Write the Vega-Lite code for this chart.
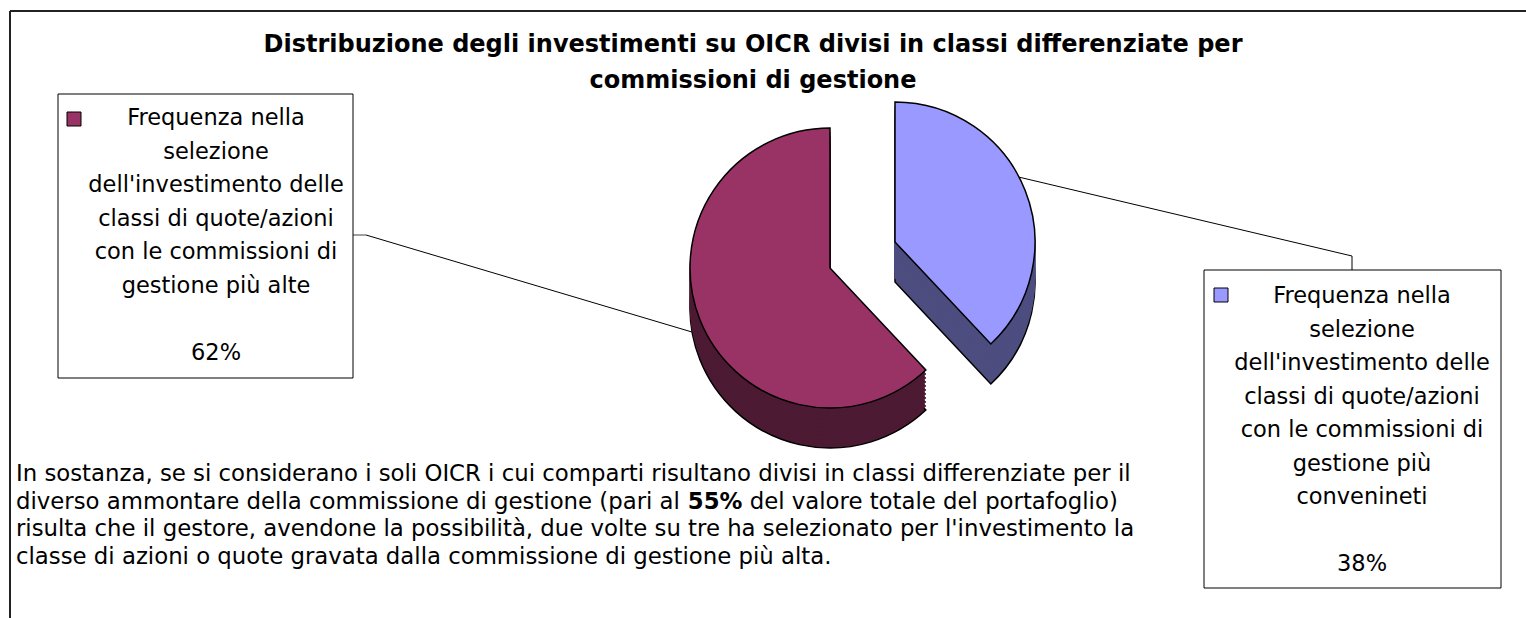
{
  "$schema": "https://vega.github.io/schema/vega-lite/v6.json",
  "width": 1526,
  "height": 618,
  "autosize": {"type": "none"},
  "padding": 0,
  "background": "#ffffff",
  "config": {"view": {"stroke": null}, "axis": {"disable": true}},
  "datasets": {
    "slices": [
      {"cat": "alte", "label": "Frequenza nella|selezione|dell'investimento delle|classi di quote/azioni|con le commissioni di|gestione più alte", "pct": 62, "ord": 2},
      {"cat": "convenienti", "label": "Frequenza nella|selezione|dell'investimento delle|classi di quote/azioni|con le commissioni di|gestione più|convenineti", "pct": 38, "ord": 1}
    ]
  },
  "layer": [
    {
      "data": {"values": [{}]},
      "layer": [
        {"mark": {"type": "rule", "color": "#222222", "strokeWidth": 2},
         "encoding": {"x": {"datum": 10, "axis": null, "scale": {"domain": [0, 1526], "nice": false, "zero": false}}, "y": {"datum": 11, "axis": null, "scale": {"domain": [0, 618], "nice": false, "zero": false, "reverse": true}}, "x2": {"datum": 1526}, "y2": {"datum": 11}}},
        {"mark": {"type": "rule", "color": "#222222", "strokeWidth": 2},
         "encoding": {"x": {"datum": 10, "scale": {"domain": [0, 1526], "nice": false, "zero": false}}, "y": {"datum": 11, "scale": {"domain": [0, 618], "nice": false, "zero": false, "reverse": true}}, "x2": {"datum": 10}, "y2": {"datum": 618}}},
        {"mark": {"type": "rule", "color": "#808080", "strokeWidth": 1.5},
         "encoding": {"x": {"datum": 353, "scale": {"domain": [0, 1526], "nice": false, "zero": false}}, "y": {"datum": 235, "scale": {"domain": [0, 618], "nice": false, "zero": false, "reverse": true}}, "x2": {"datum": 366}, "y2": {"datum": 235}}},
        {"mark": {"type": "rule", "color": "#000000", "strokeWidth": 1},
         "encoding": {"x": {"datum": 366, "scale": {"domain": [0, 1526], "nice": false, "zero": false}}, "y": {"datum": 235, "scale": {"domain": [0, 618], "nice": false, "zero": false, "reverse": true}}, "x2": {"datum": 702}, "y2": {"datum": 335}}},
        {"mark": {"type": "rule", "color": "#000000", "strokeWidth": 1},
         "encoding": {"x": {"datum": 1010, "scale": {"domain": [0, 1526], "nice": false, "zero": false}}, "y": {"datum": 175, "scale": {"domain": [0, 618], "nice": false, "zero": false, "reverse": true}}, "x2": {"datum": 1352}, "y2": {"datum": 256}}},
        {"mark": {"type": "rule", "color": "#000000", "strokeWidth": 1},
         "encoding": {"x": {"datum": 1352, "scale": {"domain": [0, 1526], "nice": false, "zero": false}}, "y": {"datum": 256, "scale": {"domain": [0, 618], "nice": false, "zero": false, "reverse": true}}, "x2": {"datum": 1352}, "y2": {"datum": 270}}}
      ]
    },
    {
      "data": {"name": "slices"},
      "transform": [
        {"stack": "pct", "groupby": [], "sort": [{"field": "ord", "order": "ascending"}], "as": ["start", "end"]},
        {"calculate": "datum.pct + '%'", "as": "pcttext"}
      ],
      "layer": [
        {
          "transform": [{"filter": "datum.cat === 'alte'"}],
          "encoding": {
            "x": {"datum": 830, "scale": {"domain": [0, 1526], "nice": false, "zero": false}},
            "theta": {"field": "start", "type": "quantitative", "scale": {"domain": [0, 100], "range": [0, 6.283185307179586]}},
            "theta2": {"field": "end"}
          },
          "layer": [
            {"mark": {"type": "arc", "radius": 140, "fill": "#4d1a33", "stroke": "#000000", "strokeWidth": 1.5}, "encoding": {"y": {"datum": 308, "scale": {"domain": [0, 618], "nice": false, "zero": false, "reverse": true}}}},
            {"mark": {"type": "arc", "radius": 140, "fill": "#4d1a33", "stroke": "#4d1a33", "strokeWidth": 1}, "encoding": {"y": {"datum": 304, "scale": {"domain": [0, 618], "nice": false, "zero": false, "reverse": true}}}},
            {"mark": {"type": "arc", "radius": 140, "fill": "#4d1a33", "stroke": "#4d1a33", "strokeWidth": 1}, "encoding": {"y": {"datum": 300, "scale": {"domain": [0, 618], "nice": false, "zero": false, "reverse": true}}}},
            {"mark": {"type": "arc", "radius": 140, "fill": "#4d1a33", "stroke": "#4d1a33", "strokeWidth": 1}, "encoding": {"y": {"datum": 296, "scale": {"domain": [0, 618], "nice": false, "zero": false, "reverse": true}}}},
            {"mark": {"type": "arc", "radius": 140, "fill": "#4d1a33", "stroke": "#4d1a33", "strokeWidth": 1}, "encoding": {"y": {"datum": 292, "scale": {"domain": [0, 618], "nice": false, "zero": false, "reverse": true}}}},
            {"mark": {"type": "arc", "radius": 140, "fill": "#4d1a33", "stroke": "#4d1a33", "strokeWidth": 1}, "encoding": {"y": {"datum": 288, "scale": {"domain": [0, 618], "nice": false, "zero": false, "reverse": true}}}},
            {"mark": {"type": "arc", "radius": 140, "fill": "#4d1a33", "stroke": "#4d1a33", "strokeWidth": 1}, "encoding": {"y": {"datum": 284, "scale": {"domain": [0, 618], "nice": false, "zero": false, "reverse": true}}}},
            {"mark": {"type": "arc", "radius": 140, "fill": "#4d1a33", "stroke": "#4d1a33", "strokeWidth": 1}, "encoding": {"y": {"datum": 280, "scale": {"domain": [0, 618], "nice": false, "zero": false, "reverse": true}}}},
            {"mark": {"type": "arc", "radius": 140, "fill": "#4d1a33", "stroke": "#4d1a33", "strokeWidth": 1}, "encoding": {"y": {"datum": 276, "scale": {"domain": [0, 618], "nice": false, "zero": false, "reverse": true}}}},
            {"mark": {"type": "arc", "radius": 140, "fill": "#4d1a33", "stroke": "#4d1a33", "strokeWidth": 1}, "encoding": {"y": {"datum": 272, "scale": {"domain": [0, 618], "nice": false, "zero": false, "reverse": true}}}},
            {"mark": {"type": "arc", "radius": 140, "stroke": "#000000", "strokeWidth": 1.5},
             "encoding": {"y": {"datum": 268, "scale": {"domain": [0, 618], "nice": false, "zero": false, "reverse": true}},
                          "color": {"field": "cat", "type": "nominal", "scale": {"domain": ["alte", "convenienti"], "range": ["#993366", "#9999ff"]}, "legend": null}}}
          ]
        },
        {
          "transform": [{"filter": "datum.cat === 'convenienti'"}],
          "encoding": {
            "x": {"datum": 895, "scale": {"domain": [0, 1526], "nice": false, "zero": false}},
            "theta": {"field": "start", "type": "quantitative", "scale": {"domain": [0, 100], "range": [0, 6.283185307179586]}},
            "theta2": {"field": "end"}
          },
          "layer": [
            {"mark": {"type": "arc", "radius": 140, "fill": "#4d4d80", "stroke": "#000000", "strokeWidth": 1.5}, "encoding": {"y": {"datum": 282, "scale": {"domain": [0, 618], "nice": false, "zero": false, "reverse": true}}}},
            {"mark": {"type": "arc", "radius": 140, "fill": "#4d4d80", "stroke": "#4d4d80", "strokeWidth": 1}, "encoding": {"y": {"datum": 278, "scale": {"domain": [0, 618], "nice": false, "zero": false, "reverse": true}}}},
            {"mark": {"type": "arc", "radius": 140, "fill": "#4d4d80", "stroke": "#4d4d80", "strokeWidth": 1}, "encoding": {"y": {"datum": 274, "scale": {"domain": [0, 618], "nice": false, "zero": false, "reverse": true}}}},
            {"mark": {"type": "arc", "radius": 140, "fill": "#4d4d80", "stroke": "#4d4d80", "strokeWidth": 1}, "encoding": {"y": {"datum": 270, "scale": {"domain": [0, 618], "nice": false, "zero": false, "reverse": true}}}},
            {"mark": {"type": "arc", "radius": 140, "fill": "#4d4d80", "stroke": "#4d4d80", "strokeWidth": 1}, "encoding": {"y": {"datum": 266, "scale": {"domain": [0, 618], "nice": false, "zero": false, "reverse": true}}}},
            {"mark": {"type": "arc", "radius": 140, "fill": "#4d4d80", "stroke": "#4d4d80", "strokeWidth": 1}, "encoding": {"y": {"datum": 262, "scale": {"domain": [0, 618], "nice": false, "zero": false, "reverse": true}}}},
            {"mark": {"type": "arc", "radius": 140, "fill": "#4d4d80", "stroke": "#4d4d80", "strokeWidth": 1}, "encoding": {"y": {"datum": 258, "scale": {"domain": [0, 618], "nice": false, "zero": false, "reverse": true}}}},
            {"mark": {"type": "arc", "radius": 140, "fill": "#4d4d80", "stroke": "#4d4d80", "strokeWidth": 1}, "encoding": {"y": {"datum": 254, "scale": {"domain": [0, 618], "nice": false, "zero": false, "reverse": true}}}},
            {"mark": {"type": "arc", "radius": 140, "fill": "#4d4d80", "stroke": "#4d4d80", "strokeWidth": 1}, "encoding": {"y": {"datum": 250, "scale": {"domain": [0, 618], "nice": false, "zero": false, "reverse": true}}}},
            {"mark": {"type": "arc", "radius": 140, "fill": "#4d4d80", "stroke": "#4d4d80", "strokeWidth": 1}, "encoding": {"y": {"datum": 246, "scale": {"domain": [0, 618], "nice": false, "zero": false, "reverse": true}}}},
            {"mark": {"type": "arc", "radius": 140, "stroke": "#000000", "strokeWidth": 1.5},
             "encoding": {"y": {"datum": 242, "scale": {"domain": [0, 618], "nice": false, "zero": false, "reverse": true}},
                          "color": {"field": "cat", "type": "nominal", "scale": {"domain": ["alte", "convenienti"], "range": ["#993366", "#9999ff"]}, "legend": null}}}
          ]
        },
        {
          "transform": [{"filter": "datum.cat === 'alte'"}],
          "layer": [
            {"mark": {"type": "rect", "fill": "#ffffff", "stroke": "#000000", "strokeWidth": 1},
             "encoding": {"x": {"datum": 58, "scale": {"domain": [0, 1526], "nice": false, "zero": false}}, "x2": {"datum": 353}, "y": {"datum": 94, "scale": {"domain": [0, 618], "nice": false, "zero": false, "reverse": true}}, "y2": {"datum": 378}}},
            {"mark": {"type": "point", "shape": "square", "filled": true, "size": 196, "opacity": 1, "stroke": "#000000", "strokeWidth": 1},
             "encoding": {"x": {"datum": 74, "scale": {"domain": [0, 1526], "nice": false, "zero": false}}, "y": {"datum": 119, "scale": {"domain": [0, 618], "nice": false, "zero": false, "reverse": true}},
                          "color": {"field": "cat", "type": "nominal", "scale": {"domain": ["alte", "convenienti"], "range": ["#993366", "#9999ff"]}, "legend": null}}},
            {"mark": {"type": "text", "font": "DejaVu Sans", "fontSize": 22.5, "lineHeight": 33.5, "lineBreak": "|", "align": "center", "baseline": "top", "color": "#000000"},
             "encoding": {"x": {"datum": 216, "scale": {"domain": [0, 1526], "nice": false, "zero": false}}, "y": {"datum": 107.4, "scale": {"domain": [0, 618], "nice": false, "zero": false, "reverse": true}}, "text": {"field": "label", "type": "nominal"}}},
            {"mark": {"type": "text", "font": "DejaVu Sans", "fontSize": 22.5, "align": "center", "baseline": "top", "color": "#000000"},
             "encoding": {"x": {"datum": 216, "scale": {"domain": [0, 1526], "nice": false, "zero": false}}, "y": {"datum": 341.9, "scale": {"domain": [0, 618], "nice": false, "zero": false, "reverse": true}}, "text": {"field": "pcttext", "type": "nominal"}}}
          ]
        },
        {
          "transform": [{"filter": "datum.cat === 'convenienti'"}],
          "layer": [
            {"mark": {"type": "rect", "fill": "#ffffff", "stroke": "#000000", "strokeWidth": 1},
             "encoding": {"x": {"datum": 1204, "scale": {"domain": [0, 1526], "nice": false, "zero": false}}, "x2": {"datum": 1501}, "y": {"datum": 270, "scale": {"domain": [0, 618], "nice": false, "zero": false, "reverse": true}}, "y2": {"datum": 588}}},
            {"mark": {"type": "point", "shape": "square", "filled": true, "size": 196, "opacity": 1, "stroke": "#000000", "strokeWidth": 1},
             "encoding": {"x": {"datum": 1221, "scale": {"domain": [0, 1526], "nice": false, "zero": false}}, "y": {"datum": 295, "scale": {"domain": [0, 618], "nice": false, "zero": false, "reverse": true}},
                          "color": {"field": "cat", "type": "nominal", "scale": {"domain": ["alte", "convenienti"], "range": ["#993366", "#9999ff"]}, "legend": null}}},
            {"mark": {"type": "text", "font": "DejaVu Sans", "fontSize": 22.5, "lineHeight": 33.5, "lineBreak": "|", "align": "center", "baseline": "top", "color": "#000000"},
             "encoding": {"x": {"datum": 1362, "scale": {"domain": [0, 1526], "nice": false, "zero": false}}, "y": {"datum": 285.4, "scale": {"domain": [0, 618], "nice": false, "zero": false, "reverse": true}}, "text": {"field": "label", "type": "nominal"}}},
            {"mark": {"type": "text", "font": "DejaVu Sans", "fontSize": 22.5, "align": "center", "baseline": "top", "color": "#000000"},
             "encoding": {"x": {"datum": 1362, "scale": {"domain": [0, 1526], "nice": false, "zero": false}}, "y": {"datum": 553.4, "scale": {"domain": [0, 618], "nice": false, "zero": false, "reverse": true}}, "text": {"field": "pcttext", "type": "nominal"}}}
          ]
        }
      ]
    },
    {
      "data": {"values": [{}]},
      "layer": [
        {"mark": {"type": "text", "font": "DejaVu Sans", "fontWeight": "bold", "fontSize": 24, "lineHeight": 36, "align": "center", "baseline": "top", "color": "#000000",
                  "text": ["Distribuzione degli investimenti su OICR divisi in classi differenziate per", "commissioni di gestione"]},
         "encoding": {"x": {"datum": 753, "scale": {"domain": [0, 1526], "nice": false, "zero": false}}, "y": {"datum": 32.5, "scale": {"domain": [0, 618], "nice": false, "zero": false, "reverse": true}}}},
        {"mark": {"type": "text", "font": "DejaVu Sans", "fontSize": 22.8, "align": "left", "baseline": "top", "color": "#000000",
                  "text": "In sostanza, se si considerano i soli OICR i cui comparti risultano divisi in classi differenziate per il"},
         "encoding": {"x": {"datum": 16, "scale": {"domain": [0, 1526], "nice": false, "zero": false}}, "y": {"datum": 463.3, "scale": {"domain": [0, 618], "nice": false, "zero": false, "reverse": true}}}},
        {"mark": {"type": "text", "font": "DejaVu Sans", "fontSize": 22.8, "align": "left", "baseline": "top", "color": "#000000",
                  "text": "diverso ammontare della commissione di gestione (pari al"},
         "encoding": {"x": {"datum": 16, "scale": {"domain": [0, 1526], "nice": false, "zero": false}}, "y": {"datum": 490.8, "scale": {"domain": [0, 618], "nice": false, "zero": false, "reverse": true}}}},
        {"mark": {"type": "text", "font": "DejaVu Sans", "fontWeight": "bold", "fontSize": 22.8, "align": "left", "baseline": "top", "color": "#000000",
                  "text": "55%"},
         "encoding": {"x": {"datum": 687.8, "scale": {"domain": [0, 1526], "nice": false, "zero": false}}, "y": {"datum": 490.8, "scale": {"domain": [0, 618], "nice": false, "zero": false, "reverse": true}}}},
        {"mark": {"type": "text", "font": "DejaVu Sans", "fontSize": 22.8, "align": "left", "baseline": "top", "color": "#000000",
                  "text": "del valore totale del portafoglio)"},
         "encoding": {"x": {"datum": 749.7, "scale": {"domain": [0, 1526], "nice": false, "zero": false}}, "y": {"datum": 490.8, "scale": {"domain": [0, 618], "nice": false, "zero": false, "reverse": true}}}},
        {"mark": {"type": "text", "font": "DejaVu Sans", "fontSize": 22.8, "align": "left", "baseline": "top", "color": "#000000",
                  "text": "risulta che il gestore, avendone la possibilità, due volte su tre ha selezionato per l'investimento la"},
         "encoding": {"x": {"datum": 16, "scale": {"domain": [0, 1526], "nice": false, "zero": false}}, "y": {"datum": 518.3, "scale": {"domain": [0, 618], "nice": false, "zero": false, "reverse": true}}}},
        {"mark": {"type": "text", "font": "DejaVu Sans", "fontSize": 22.8, "align": "left", "baseline": "top", "color": "#000000",
                  "text": "classe di azioni o quote gravata dalla commissione di gestione più alta."},
         "encoding": {"x": {"datum": 16, "scale": {"domain": [0, 1526], "nice": false, "zero": false}}, "y": {"datum": 545.8, "scale": {"domain": [0, 618], "nice": false, "zero": false, "reverse": true}}}}
      ]
    }
  ]
}
